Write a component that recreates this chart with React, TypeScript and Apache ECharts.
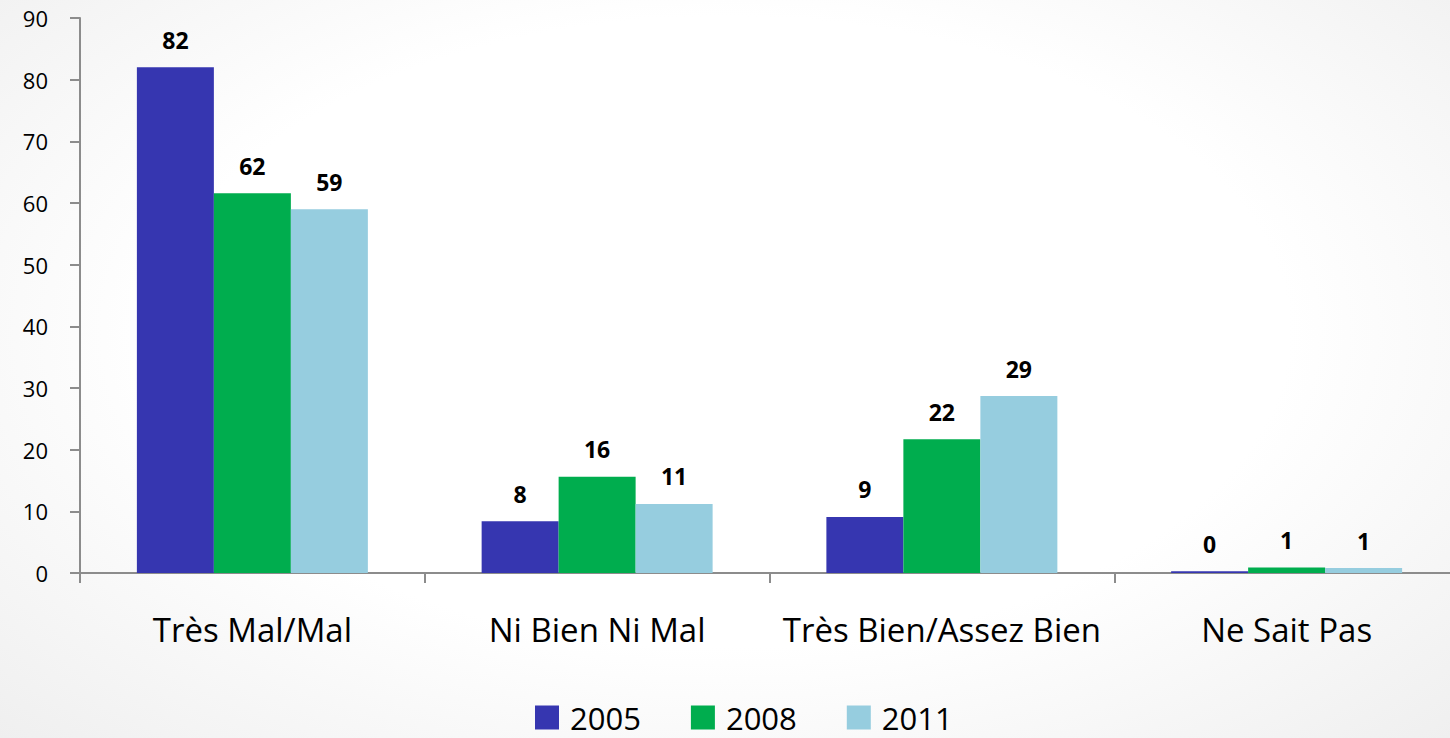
import React, { useEffect, useRef } from "react";
import * as echarts from "echarts";

const categories = ["Très Mal/Mal", "Ni Bien Ni Mal", "Très Bien/Assez Bien", "Ne Sait Pas"];
const years = ["2005", "2008", "2011"];
const values2005 = [82.0, 8.4, 9.1, 0.3];
const values2008 = [61.6, 15.6, 21.7, 0.9];
const values2011 = [59.0, 11.2, 28.7, 0.8];
const yTicks = { min: 0, max: 90, interval: 10 };

const colors = ["#3636b0", "#00ad4e", "#96cddf"];
const FONT = "'Open Sans', sans-serif";

export default function App() {
  const ref = useRef<HTMLDivElement>(null);
  useEffect(() => {
    if (!ref.current) return;
    const chart = echarts.init(ref.current, undefined, { renderer: "svg" });
    const seriesValues = [values2005, values2008, values2011];
    const axisColor = "#8c8c8c";
    chart.setOption({
      animation: false,
      textStyle: { fontFamily: FONT },
      grid: { left: 80, top: 18, bottom: 165, right: 0, containLabel: false },
      legend: {
        data: years,
        left: 535,
        top: 702,
        padding: 0,
        itemWidth: 24,
        itemHeight: 24,
        itemGap: 50,
        icon: "rect",
        textStyle: {
          fontSize: 31,
          lineHeight: 28,
          color: "#000",
          fontFamily: FONT,
          padding: [0, 0, 0, 6],
        },
      },
      xAxis: {
        type: "category",
        data: categories,
        axisLine: { show: true, lineStyle: { color: axisColor, width: 2 } },
        axisTick: { show: true, length: 10, alignWithLabel: false, lineStyle: { color: axisColor, width: 2 } },
        axisLabel: { fontSize: 33, color: "#000", margin: 40, fontFamily: FONT, interval: 0 },
      },
      yAxis: {
        type: "value",
        min: yTicks.min,
        max: yTicks.max,
        interval: yTicks.interval,
        splitLine: { show: false },
        axisLine: { show: true, lineStyle: { color: axisColor, width: 2 } },
        axisTick: { show: true, length: 10, lineStyle: { color: axisColor, width: 2 } },
        axisLabel: { fontSize: 22, color: "#000", margin: 32, fontFamily: FONT },
      },
      series: years.map((y, i) => ({
        name: y,
        type: "bar",
        data: seriesValues[i],
        barGap: "0%",
        barCategoryGap: "33%",
        itemStyle: { color: colors[i] },
        label: {
          show: true,
          position: "top",
          distance: 16,
          fontSize: 23,
          fontWeight: "bold",
          color: "#000",
          fontFamily: FONT,
          formatter: (p: any) => String(Math.round(p.value)),
        },
      })),
    });
    return () => chart.dispose();
  }, []);
  return (
    <div
      style={{
        position: "absolute",
        left: 0,
        top: 0,
        width: 1450,
        height: 738,
        overflow: "hidden",
        background: "radial-gradient(ellipse at 50% 45%, #ffffff 55%, #efefef 100%)",
      }}
    >
      <div ref={ref} style={{ width: 1459, height: 738 }} />
    </div>
  );
}
